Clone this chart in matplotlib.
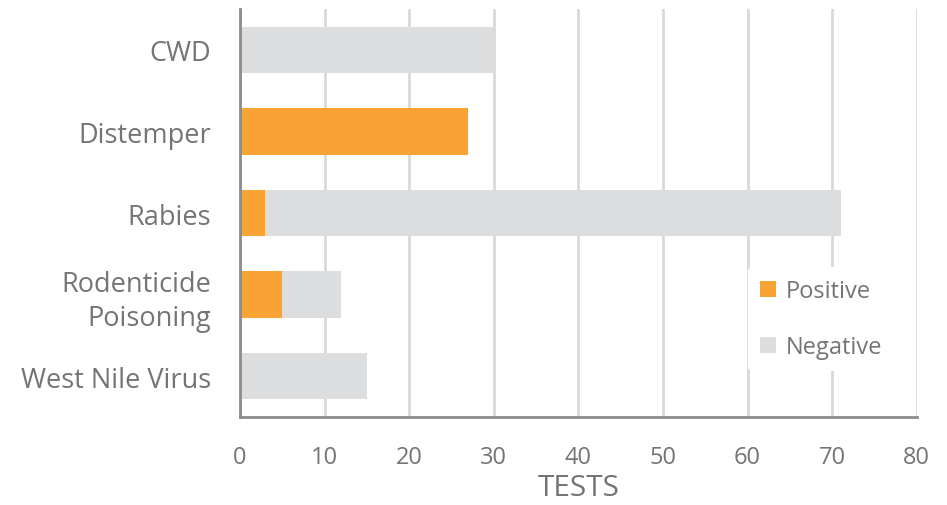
import numpy as np
import matplotlib.pyplot as plt

categories = ['CWD', 'Distemper', 'Rabies', 'Rodenticide\nPoisoning', 'West Nile Virus']
positive = [0, 27, 3, 5, 0]
negative = [30, 0, 68, 7, 15]

orange = '#F8A333'
grey = '#DCDDDE'
txt = '#747474'

plt.rcParams['font.family'] = ['Open Sans', 'DejaVu Sans']

fig = plt.figure(figsize=(9.47, 5.06), dpi=100)
ax = fig.add_axes([0.2534, 0.174, 0.7146, 0.806])

y = np.arange(len(categories))
pos = np.array(positive)
neg = np.array(negative)
ax.barh(y, pos, height=0.57, color=orange, label='Positive', zorder=2)
ax.barh(y, neg, left=pos, height=0.57, color=grey, label='Negative', zorder=2)

ax.set_ylim(len(categories) - 0.5, -0.5)
ax.set_xlim(0, 80)
ax.set_xticks(np.arange(0, 81, 10))
ax.set_yticks(y)
ax.set_yticklabels(categories, fontsize=19.5, color=txt, linespacing=1.3)
ax.tick_params(axis='x', labelsize=17, labelcolor=txt, length=0, pad=20)
ax.tick_params(axis='y', length=0, pad=21)
ax.set_xlabel('TESTS', fontsize=21.5, color=txt, labelpad=3)

ax.grid(axis='x', color='#D9D9D9', linewidth=2, zorder=0)
for s in ['top', 'right']:
    ax.spines[s].set_visible(False)
for s in ['left', 'bottom']:
    ax.spines[s].set_color('#8C8C8C')
    ax.spines[s].set_linewidth(2)

leg = ax.legend(loc='center left', bbox_to_anchor=(0.733, 0.24), frameon=True,
                fontsize=17, handlelength=0.68, handleheight=0.68,
                labelspacing=1.35, handletextpad=0.42, borderpad=0.5)
leg.get_frame().set_edgecolor('none')
leg.get_frame().set_facecolor('white')
leg.get_frame().set_alpha(1)
for t in leg.get_texts():
    t.set_color(txt)

fig.savefig('out.png', dpi=100)
